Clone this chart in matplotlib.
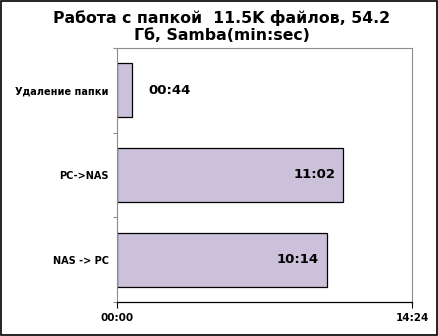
import matplotlib
matplotlib.use("Agg")
import matplotlib.pyplot as plt
from matplotlib.patches import Rectangle

# Data (seconds), top to bottom as shown
categories = ["Удаление папки", "PC->NAS", "NAS -> PC"]
durations = [44, 662, 614]
value_labels = ["00:44", "11:02", "10:14"]
x_ticks = [0, 864]
x_tick_labels = ["00:00", "14:24"]
title = "Работа с папкой  11.5K файлов, 54.2\nГб, Samba(min:sec)"

BAR_COLOR = "#cbc1da"
GRID_GRAY = "#8c8c8c"

fig = plt.figure(figsize=(4.39, 3.36), dpi=100)
fig.patches.append(Rectangle((0.002, 0.003), 0.994, 0.994, transform=fig.transFigure,
                             fill=False, edgecolor="black", linewidth=1.2))
ax = fig.add_axes([0.2665, 0.1012, 0.672, 0.756])

ypos = list(range(len(categories)))
ax.barh(ypos, durations, height=0.64, color=BAR_COLOR, edgecolor="black", linewidth=0.9)

ax.set_xlim(x_ticks[0], x_ticks[-1])
ax.set_ylim(len(categories) - 0.5, -0.5)

# value labels: inside bar end if it fits, else just outside
for y, v, lab in zip(ypos, durations, value_labels):
    if v > 200:
        ax.annotate(lab, (v, y), xytext=(-5.5, 0), textcoords="offset points",
                    ha="right", va="center", fontsize=9.5, fontweight="bold")
    else:
        ax.annotate(lab, (v, y), xytext=(11.5, 0), textcoords="offset points",
                    ha="left", va="center", fontsize=9.5, fontweight="bold")

ax.set_xticks(x_ticks)
ax.set_xticklabels(x_tick_labels, fontsize=7.5, fontweight="bold")
ax.tick_params(axis="x", direction="out", length=4, width=0.8, color="black", pad=4)

# category boundaries as ticks, names on minor ticks
ax.set_yticks([-0.5, 0.5, 1.5, 2.5])
ax.set_yticklabels([])
ax.tick_params(axis="y", which="major", direction="out", length=3, width=0.8, color=GRID_GRAY)
ax.set_yticks(ypos, minor=True)
ax.set_yticklabels(categories, minor=True, fontsize=7, fontweight="bold")
ax.tick_params(axis="y", which="minor", length=0, pad=6)

for side in ["top", "right", "left"]:
    ax.spines[side].set_color(GRID_GRAY)
    ax.spines[side].set_linewidth(0.8)
ax.spines["bottom"].set_color("black")
ax.spines["bottom"].set_linewidth(0.9)

fig.text(0.505, 0.97, title, ha="center", va="top", fontsize=11.3,
         fontweight="bold", linespacing=1.15)

fig.savefig("out.png", dpi=100)
